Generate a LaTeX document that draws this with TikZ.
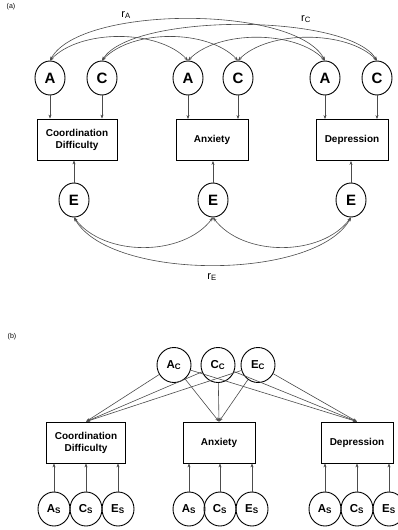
\documentclass[tikz,border=0pt]{standalone}
\usepackage{fontspec}
\setmainfont{Liberation Sans}
\usetikzlibrary{arrows.meta,shapes.geometric,calc}
\begin{document}
\begin{tikzpicture}[x=1pt,y=-1pt,
  lat/.style={draw=black,line width=0.9pt,ellipse,minimum width=30pt,minimum height=34pt,inner sep=0pt,font=\fontsize{15}{15}\selectfont\bfseries},
  lats/.style={draw=black,line width=0.9pt,ellipse,minimum width=32pt,minimum height=34pt,inner sep=0pt,font=\fontsize{11.5}{12}\selectfont\bfseries},
  obs/.style={draw=black,line width=0.8pt,rectangle,inner sep=0pt,minimum height=41pt,align=center,font=\fontsize{10}{12}\selectfont\bfseries},
  arr/.style={draw=black!70,line width=0.6pt,-{Stealth[length=4pt,width=3pt]}},
  darr/.style={draw=black!70,line width=0.6pt,{Stealth[length=4pt,width=3pt]}-{Stealth[length=4pt,width=3pt]}},
  lbl/.style={inner sep=0pt,font=\fontsize{11}{11}\selectfont},
  tag/.style={inner sep=0pt,font=\fontsize{7}{7}\selectfont}]
\path[fill=white] (0,0) rectangle (398,530);
\useasboundingbox (0,0) rectangle (398,530);

% ---------- panel (a) ----------
\node[tag] (ta) at (11,7) {(a)};
\node[lat] (a1) at (50,78) {A};
\node[lat] (c1) at (102,78) {C};
\node[lat] (a2) at (188,78) {A};
\node[lat] (c2) at (238,78) {C};
\node[lat] (a3) at (325,78) {A};
\node[lat] (c3) at (377,78) {C};

\node[obs,minimum width=80pt] (cd) at (77,139.5) {Coordination\\Difficulty};
\node[obs,minimum width=72pt] (ax) at (212,140) {Anxiety};
\node[obs,minimum width=72pt] (dp) at (352,140) {Depression};

\node[lat] (e1) at (74,200) {E};
\node[lat] (e2) at (213,200) {E};
\node[lat] (e3) at (351,200) {E};

\draw[arr] (a1) -- (a1 |- cd.north);
\draw[arr] (c1) -- (c1 |- cd.north);
\draw[arr] (a2) -- (a2 |- ax.north);
\draw[arr] (c2) -- (c2 |- ax.north);
\draw[arr] (a3) -- (a3 |- dp.north);
\draw[arr] (c3) -- (c3 |- dp.north);
\draw[arr] (e1) -- (e1 |- cd.south);
\draw[arr] (e2) -- (e2 |- ax.south);
\draw[arr] (e3) -- (e3 |- dp.south);

% correlations A and C
\draw[darr] (a1.north) .. controls (80,5) and (295,5) .. (a3.north);
\draw[darr] (c1.north) .. controls (132,13) and (347,13) .. (c3.north);
\draw[darr] (a1.north) .. controls (80,29) and (158,29) .. (a2.north);
\draw[darr] (c1.north) .. controls (132,29) and (208,29) .. (c2.north);
\draw[darr] (a2.north) .. controls (218,30) and (295,30) .. (a3.north);
\draw[darr] (c2.north) .. controls (268,30) and (347,30) .. (c3.north);
\node[lbl] (ra) at (126,15) {r\textsubscript{A}};
\node[lbl] (rc) at (306,19) {r\textsubscript{C}};

% correlations E
\draw[darr] (e1.south) .. controls (104,257) and (183,257) .. (e2.south);
\draw[darr] (e2.south) .. controls (243,257) and (321,257) .. (e3.south);
\draw[darr] (e1.south) .. controls (110,281) and (315,281) .. (e3.south);
\node[lbl] (re) at (212,277) {r\textsubscript{E}};

% ---------- panel (b) ----------
\node[tag] (tb) at (12,337) {(b)};
\node[lats,minimum width=34pt,minimum height=35pt] (ac) at (174,365) {A\textsubscript{C}};
\node[lats,minimum width=34pt,minimum height=35pt] (cc) at (218,365) {C\textsubscript{C}};
\node[lats,minimum width=34pt,minimum height=35pt] (ec) at (258,365) {E\textsubscript{C}};

\node[obs,minimum width=79pt] (b1) at (86,442.5) {Coordination\\Difficulty};
\node[obs,minimum width=72pt] (b2) at (219,442.5) {Anxiety};
\node[obs,minimum width=72pt] (b3) at (357,442.5) {Depression};

\foreach \s in {ac,cc,ec}{
  \draw[arr] (\s) -- (b1.north);
  \draw[arr] (\s) -- (b2.north);
  \draw[arr] (\s) -- (b3.north);
}

\node[lats] (as1) at (54,509) {A\textsubscript{S}};
\node[lats] (cs1) at (86,509) {C\textsubscript{S}};
\node[lats] (es1) at (118,509) {E\textsubscript{S}};
\node[lats] (as2) at (189,509) {A\textsubscript{S}};
\node[lats] (cs2) at (220,509) {C\textsubscript{S}};
\node[lats] (es2) at (252,509) {E\textsubscript{S}};
\node[lats] (as3) at (325,509) {A\textsubscript{S}};
\node[lats] (cs3) at (357,509) {C\textsubscript{S}};
\node[lats] (es3) at (389,509) {E\textsubscript{S}};

\draw[arr] (as1) -- (as1 |- b1.south);
\draw[arr] (cs1) -- (cs1 |- b1.south);
\draw[arr] (es1) -- (es1 |- b1.south);
\draw[arr] (as2) -- (as2 |- b2.south);
\draw[arr] (cs2) -- (cs2 |- b2.south);
\draw[arr] (es2) -- (es2 |- b2.south);
\draw[arr] (as3) -- (as3 |- b3.south);
\draw[arr] (cs3) -- (cs3 |- b3.south);
\draw[arr] (es3) -- (es3 |- b3.south);
\end{tikzpicture}
\end{document}
